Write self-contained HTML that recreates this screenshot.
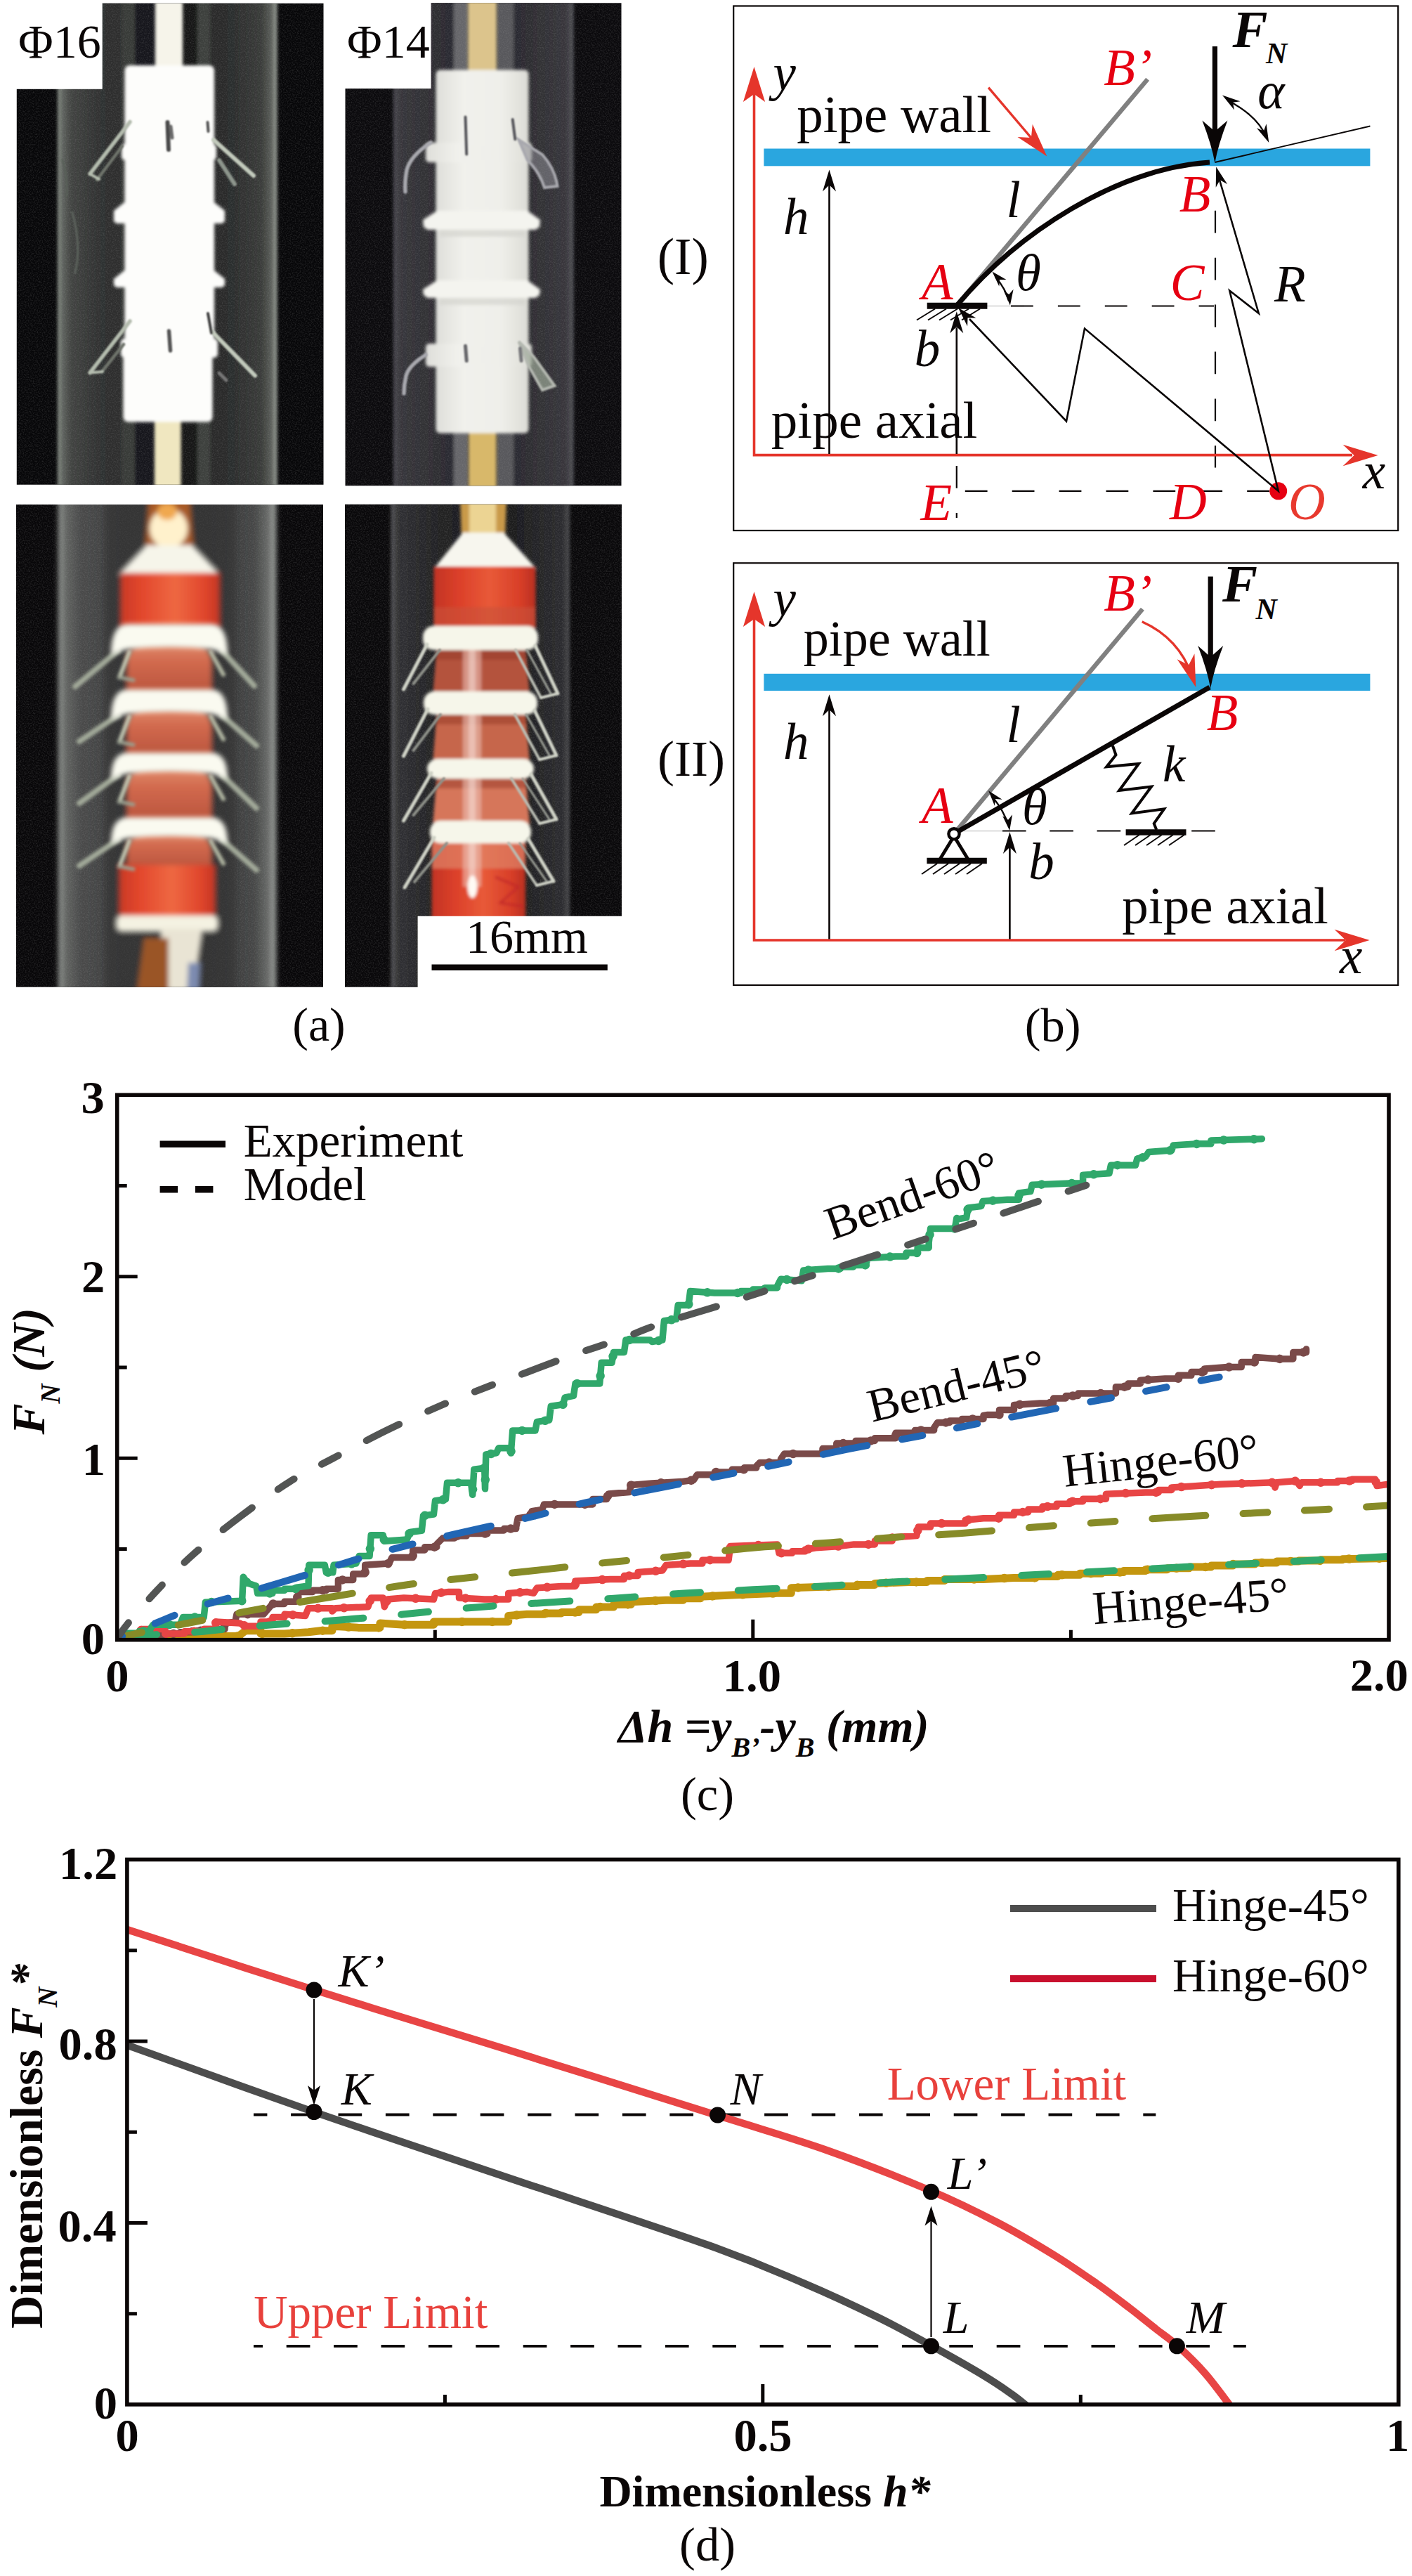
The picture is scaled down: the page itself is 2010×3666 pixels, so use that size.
<!DOCTYPE html>
<html><head><meta charset="utf-8"><title>Figure</title>
<style>html,body{margin:0;padding:0;background:#fff}svg{display:block}</style>
</head><body>
<svg width="2010" height="3666" viewBox="0 0 2010 3666">
<rect width="2010" height="3666" fill="#fff"/>
<g id="panela">
<defs>
<filter id="noise" x="0" y="0" width="100%" height="100%"><feTurbulence type="fractalNoise" baseFrequency="0.55" numOctaves="2" seed="7"/><feColorMatrix type="matrix" values="0 0 0 0 0.42  0 0 0 0 0.42  0 0 0 0 0.42  1.6 0 0 0 -0.66"/></filter>
<linearGradient id="body2" x1="0" x2="1" y1="0" y2="0"><stop offset="0" stop-color="#dededa"/><stop offset="0.3" stop-color="#f1f1ec"/><stop offset="0.7" stop-color="#efefea"/><stop offset="1" stop-color="#dcdcd6"/></linearGradient>
<filter id="blur1" x="-5%" y="-5%" width="110%" height="110%"><feGaussianBlur stdDeviation="1.2"/></filter>
<filter id="blur2" x="-5%" y="-5%" width="110%" height="110%"><feGaussianBlur stdDeviation="2.2"/></filter>
<filter id="blur3" x="-5%" y="-5%" width="110%" height="110%"><feGaussianBlur stdDeviation="3.5"/></filter>
<linearGradient id="tube1" x1="0" x2="1" y1="0" y2="0">
<stop offset="0" stop-color="#8f958d"/><stop offset="0.02" stop-color="#626661"/><stop offset="0.06" stop-color="#424442"/><stop offset="0.2" stop-color="#2f3030"/>
<stop offset="0.5" stop-color="#262727"/><stop offset="0.8" stop-color="#2c2d2d"/><stop offset="0.93" stop-color="#3a3c3a"/><stop offset="0.975" stop-color="#5c605b"/><stop offset="1" stop-color="#a2a8a0"/>
</linearGradient>
<linearGradient id="tube2" x1="0" x2="1" y1="0" y2="0">
<stop offset="0" stop-color="#4a4a50"/><stop offset="0.04" stop-color="#37363b"/><stop offset="0.3" stop-color="#2c2b30"/>
<stop offset="0.7" stop-color="#2c2b30"/><stop offset="0.96" stop-color="#38373c"/><stop offset="1" stop-color="#55555b"/>
</linearGradient>
<linearGradient id="tube3" x1="0" x2="1" y1="0" y2="0">
<stop offset="0" stop-color="#a0a5a0"/><stop offset="0.03" stop-color="#646664"/><stop offset="0.1" stop-color="#4a4b4b"/><stop offset="0.3" stop-color="#3c3c3d"/>
<stop offset="0.7" stop-color="#3a3a3b"/><stop offset="0.9" stop-color="#454646"/><stop offset="0.97" stop-color="#6c6e6c"/><stop offset="1" stop-color="#b0b5b0"/>
</linearGradient>
<linearGradient id="red3" x1="0" x2="1" y1="0" y2="0">
<stop offset="0" stop-color="#c93a26"/><stop offset="0.2" stop-color="#e2462c"/><stop offset="0.55" stop-color="#ee6842"/><stop offset="0.85" stop-color="#e0462c"/><stop offset="1" stop-color="#c43624"/>
</linearGradient>
<linearGradient id="dome3" x1="0" x2="0" y1="0" y2="1">
<stop offset="0" stop-color="#e08a6c"/><stop offset="0.35" stop-color="#d26a4e"/><stop offset="1" stop-color="#b9533c"/>
</linearGradient>
<linearGradient id="red4" x1="0" x2="1" y1="0" y2="0">
<stop offset="0" stop-color="#c23424"/><stop offset="0.25" stop-color="#dc402a"/><stop offset="0.55" stop-color="#e85a38"/><stop offset="0.85" stop-color="#d83e28"/><stop offset="1" stop-color="#b83022"/>
</linearGradient>
<linearGradient id="dome4" x1="0" x2="0" y1="0" y2="1">
<stop offset="0" stop-color="#9c3a28"/><stop offset="0.4" stop-color="#b85038"/><stop offset="1" stop-color="#b04c36"/>
</linearGradient>
<linearGradient id="tube4" x1="0" x2="1" y1="0" y2="0">
<stop offset="0" stop-color="#56565a"/><stop offset="0.04" stop-color="#303033"/><stop offset="0.3" stop-color="#202022"/>
<stop offset="0.7" stop-color="#1d1d1f"/><stop offset="0.96" stop-color="#2c2c2f"/><stop offset="1" stop-color="#4c4c50"/>
</linearGradient>
</defs>
<clipPath id="cp1"><rect x="23.8" y="4.7" width="436.7" height="685.1"/></clipPath>
<g clip-path="url(#cp1)">
<rect x="18.8" y="-0.3" width="446.7" height="695.1" fill="#070709" />
<g filter="url(#blur2)">
<rect x="82.0" y="-10.0" width="312.5" height="710.0" fill="url(#tube1)" />
<rect x="192.0" y="-10.0" width="29.0" height="710.0" fill="#19191c" />
<rect x="257.0" y="-10.0" width="24.0" height="710.0" fill="#161816" />
<rect x="173.0" y="-10.0" width="19.0" height="710.0" fill="#383a38" />
<rect x="281.0" y="-10.0" width="18.0" height="710.0" fill="#3e403e" />
</g>
<rect x="23.8" y="4.7" width="436.7" height="685.1" filter="url(#noise)" opacity="0.26"/>
<g filter="url(#blur2)">
<rect x="221.0" y="-10.0" width="39.0" height="110.0" fill="#f6f4ea" />
<rect x="220.0" y="590.0" width="37.5" height="110.0" fill="#f0e7c0" />
<rect x="177.5" y="93.0" width="127.5" height="416.0" fill="#fdfdfb" rx="7"/>
<rect x="175.5" y="500.0" width="127.0" height="100.5" fill="#fdfdfb" rx="7"/>
<rect x="173.0" y="205.0" width="135.0" height="23.0" fill="#fdfdfb" rx="5"/>
<polygon points="177.0,288.0 305.0,288.0 320.0,300.0 320.0,315.0 316.0,318.0 166.0,318.0 162.0,315.0 162.0,300.0" fill="#fdfdfb" />
<polygon points="177.0,385.0 305.0,385.0 320.0,397.0 320.0,406.0 316.0,409.0 166.0,409.0 162.0,406.0 162.0,397.0" fill="#fdfdfb" />
<rect x="172.0" y="482.0" width="138.0" height="27.0" fill="#fdfdfb" rx="5"/>
</g>
<g filter="url(#blur1)">
<line x1="185.0" y1="173.5" x2="128.0" y2="247.5" stroke="#b4bcae" stroke-width="5.5" stroke-linecap="round" />
<line x1="174.0" y1="208.0" x2="138.0" y2="256.0" stroke="#6f756c" stroke-width="4.5" stroke-linecap="round" />
<line x1="128.0" y1="247.5" x2="141.0" y2="255.0" stroke="#b4bcae" stroke-width="4.0" stroke-linecap="round" />
<line x1="304.0" y1="199.0" x2="361.0" y2="250.0" stroke="#c2cabc" stroke-width="6.0" stroke-linecap="round" />
<line x1="312.0" y1="228.0" x2="334.0" y2="262.0" stroke="#8d958c" stroke-width="6.0" stroke-linecap="round" />
<line x1="185.0" y1="457.0" x2="128.0" y2="530.5" stroke="#b4bcae" stroke-width="5.5" stroke-linecap="round" />
<line x1="176.0" y1="490.0" x2="145.0" y2="529.0" stroke="#6f756c" stroke-width="4.5" stroke-linecap="round" />
<line x1="128.0" y1="530.5" x2="146.0" y2="529.0" stroke="#b4bcae" stroke-width="4.0" stroke-linecap="round" />
<line x1="301.0" y1="471.0" x2="363.0" y2="534.5" stroke="#c2cabc" stroke-width="6.0" stroke-linecap="round" />
<line x1="296.0" y1="446.0" x2="301.0" y2="474.0" stroke="#3c3c3c" stroke-width="4.0" stroke-linecap="round" />
<line x1="312.0" y1="531.0" x2="322.0" y2="541.0" stroke="#777" stroke-width="5.0" stroke-linecap="round" />
<line x1="238.5" y1="174.0" x2="240.0" y2="213.0" stroke="#4a4a4a" stroke-width="6.0" stroke-linecap="round" />
<line x1="243.0" y1="180.0" x2="245.0" y2="196.0" stroke="#6a6a6a" stroke-width="5.0" stroke-linecap="round" />
<line x1="295.5" y1="174.0" x2="296.5" y2="187.0" stroke="#555" stroke-width="4.0" stroke-linecap="round" />
<line x1="240.5" y1="471.0" x2="242.5" y2="499.0" stroke="#555" stroke-width="5.5" stroke-linecap="round" />
<path d="M102.7 301.0 Q116.9 354.1 106.2 389.5" stroke="#5b625c" stroke-width="3" fill="none"/>
<path d="M88.5 226.6 Q97.4 255.0 94.9 279.7" stroke="#596059" stroke-width="2.5" fill="none"/>
</g>
</g>
<rect x="22.8" y="3.7" width="122.9" height="123.1" fill="#fff" />
<clipPath id="cp2"><rect x="491.5" y="4.3" width="393.0" height="686.9"/></clipPath>
<g clip-path="url(#cp2)">
<rect x="486.5" y="-0.7" width="403.0" height="696.9" fill="#0b0a0d" />
<g filter="url(#blur2)">
<rect x="560.0" y="-10.0" width="256.5" height="710.0" fill="url(#tube2)" />
<rect x="646.0" y="-10.0" width="20.0" height="710.0" fill="#66666a" />
<rect x="707.0" y="-10.0" width="24.0" height="710.0" fill="#58585c" />
</g>
<rect x="491.5" y="4.3" width="393.0" height="686.9" filter="url(#noise)" opacity="0.26"/>
<g filter="url(#blur2)">
<rect x="666.0" y="-10.0" width="41.0" height="120.0" fill="#dcc48c" />
<rect x="667.0" y="605.0" width="39.6" height="95.0" fill="#d8b86a" />
<rect x="620.5" y="99.5" width="132.0" height="517.0" fill="url(#body2)" rx="6"/>
<rect x="606.0" y="203.0" width="151.0" height="28.0" fill="url(#body2)" rx="5"/>
<polygon points="622.0,300.0 751.0,300.0 769.0,313.0 768.0,323.0 762.0,327.0 609.0,327.0 603.0,323.0 602.0,313.0" fill="#f4f4ef" />
<rect x="626.0" y="327.0" width="122.0" height="10.0" fill="#d4d4ce" opacity="0.7"/>
<polygon points="622.0,399.0 751.0,399.0 769.0,412.0 768.0,420.0 762.0,424.0 609.0,424.0 603.0,420.0 602.0,412.0" fill="#f4f4ef" />
<rect x="626.0" y="424.0" width="122.0" height="10.0" fill="#d4d4ce" opacity="0.7"/>
<rect x="606.0" y="489.0" width="151.0" height="33.0" fill="url(#body2)" rx="5"/>
</g>
<g filter="url(#blur1)" fill="none" stroke-linecap="round">
<path d="M613 203 Q584 222 579 242 Q576 258 577 273" stroke="#a8a8ae" stroke-width="5.5"/>
<path d="M738.5 199 L772 220 Q790 240 793.5 265 L775 267 Q768 245 751 228 Z" fill="#8a8a92" fill-opacity="0.55" stroke="#a8a8ae" stroke-width="4"/>
<path d="M606 505 Q582 520 578 535 Q575 548 575 560" stroke="#a8a8ae" stroke-width="5.5"/>
<path d="M738.5 486 L760 508 L789.5 549 L772 555 L752 520 Z" fill="#9aa596" fill-opacity="0.7" stroke="#b4b8b0" stroke-width="4"/>
<line x1="662.5" y1="166.4" x2="664.2" y2="219.5" stroke="#55555a" stroke-width="4.0" stroke-linecap="round" />
<line x1="729.7" y1="170.0" x2="733.3" y2="198.3" stroke="#55555a" stroke-width="4.0" stroke-linecap="round" />
<line x1="662.5" y1="492.2" x2="664.2" y2="513.5" stroke="#66666a" stroke-width="5.0" stroke-linecap="round" />
<line x1="740.4" y1="495.8" x2="742.1" y2="513.5" stroke="#77777a" stroke-width="5.0" stroke-linecap="round" />
</g>
</g>
<rect x="490.5" y="3.3" width="123.1" height="122.7" fill="#fff" />
<clipPath id="cp3"><rect x="23.0" y="718.0" width="437.0" height="686.7"/></clipPath>
<g clip-path="url(#cp3)">
<rect x="18.0" y="713.0" width="447.0" height="696.7" fill="#080709" />
<g filter="url(#blur3)">
<rect x="83.0" y="700.0" width="310.0" height="720.0" fill="url(#tube3)" />
</g>
<rect x="23.0" y="718.0" width="437.0" height="686.7" filter="url(#noise)" opacity="0.26"/>
<g filter="url(#blur3)">
<rect x="150.0" y="700.0" width="185.0" height="720.0" fill="#2f2f31" opacity="0.55"/>
<polygon points="212.0,712.0 270.0,712.0 276.0,785.0 206.0,785.0" fill="#a85a26" />
<ellipse cx="240" cy="752" rx="27" ry="28" fill="#fff1cc"/>
<ellipse cx="238" cy="728" rx="14" ry="12" fill="#f0a850"/>
<polygon points="209.0,776.0 273.0,776.0 313.0,818.0 169.0,818.0" fill="#f6f5ea" />
<rect x="172.0" y="815.0" width="140.5" height="77.0" fill="url(#red3)" />
<path d="M181.0 987.0 L181.0 941.0 Q184.0 916.0 211.0 916.0 L271.0 916.0 Q298.0 916.0 301.0 941.0 L301.0 987.0 Z" fill="url(#dome3)"/>
<path d="M181.0 1077.0 L181.0 1033.0 Q184.0 1008.0 211.0 1008.0 L271.0 1008.0 Q298.0 1008.0 301.0 1033.0 L301.0 1077.0 Z" fill="url(#dome3)"/>
<path d="M181.0 1169.0 L181.0 1118.0 Q184.0 1093.0 211.0 1093.0 L271.0 1093.0 Q298.0 1093.0 301.0 1118.0 L301.0 1169.0 Z" fill="url(#dome3)"/>
<path d="M181.0 1236.0 L181.0 1210.0 Q184.0 1185.0 211.0 1185.0 L271.0 1185.0 Q298.0 1185.0 301.0 1210.0 L301.0 1236.0 Z" fill="url(#dome3)"/>
<rect x="170.0" y="1231.0" width="136.0" height="76.0" fill="url(#red3)" />
<rect x="166.0" y="1303.0" width="144.0" height="22.0" fill="#f4f2e2" rx="7"/>
<polygon points="228.0,1322.0 288.0,1322.0 275.0,1410.0 240.0,1410.0" fill="#e9e4d4" />
<polygon points="205.0,1335.0 240.0,1335.0 240.0,1410.0 195.0,1410.0" fill="#9a5526" />
<polygon points="268.0,1370.0 285.0,1370.0 283.0,1410.0 266.0,1410.0" fill="#7d8bb0" />
</g>
<g filter="url(#blur2)">
<line x1="168.0" y1="926.0" x2="107.0" y2="977.0" stroke="#a3aa9a" stroke-width="8.0" stroke-linecap="round" />
<line x1="316.0" y1="926.0" x2="362.0" y2="976.0" stroke="#a3aa9a" stroke-width="8.0" stroke-linecap="round" />
<line x1="184.0" y1="928.0" x2="170.0" y2="964.0" stroke="#c4c9b4" stroke-width="6.0" stroke-linecap="round" />
<line x1="300.0" y1="928.0" x2="318.0" y2="960.0" stroke="#b4b9a4" stroke-width="6.0" stroke-linecap="round" />
<line x1="170.0" y1="964.0" x2="190.0" y2="968.0" stroke="#9aa090" stroke-width="5.0" stroke-linecap="round" />
<line x1="168.0" y1="1018.0" x2="113.0" y2="1055.0" stroke="#a3aa9a" stroke-width="8.0" stroke-linecap="round" />
<line x1="316.0" y1="1018.0" x2="365.0" y2="1061.0" stroke="#a3aa9a" stroke-width="8.0" stroke-linecap="round" />
<line x1="184.0" y1="1020.0" x2="170.0" y2="1056.0" stroke="#c4c9b4" stroke-width="6.0" stroke-linecap="round" />
<line x1="300.0" y1="1020.0" x2="318.0" y2="1052.0" stroke="#b4b9a4" stroke-width="6.0" stroke-linecap="round" />
<line x1="170.0" y1="1056.0" x2="190.0" y2="1060.0" stroke="#9aa090" stroke-width="5.0" stroke-linecap="round" />
<line x1="168.0" y1="1103.0" x2="113.0" y2="1143.0" stroke="#a3aa9a" stroke-width="8.0" stroke-linecap="round" />
<line x1="316.0" y1="1103.0" x2="365.0" y2="1150.0" stroke="#a3aa9a" stroke-width="8.0" stroke-linecap="round" />
<line x1="184.0" y1="1105.0" x2="170.0" y2="1141.0" stroke="#c4c9b4" stroke-width="6.0" stroke-linecap="round" />
<line x1="300.0" y1="1105.0" x2="318.0" y2="1137.0" stroke="#b4b9a4" stroke-width="6.0" stroke-linecap="round" />
<line x1="170.0" y1="1141.0" x2="190.0" y2="1145.0" stroke="#9aa090" stroke-width="5.0" stroke-linecap="round" />
<line x1="168.0" y1="1195.0" x2="113.0" y2="1232.0" stroke="#a3aa9a" stroke-width="8.0" stroke-linecap="round" />
<line x1="316.0" y1="1195.0" x2="365.0" y2="1238.0" stroke="#a3aa9a" stroke-width="8.0" stroke-linecap="round" />
<line x1="184.0" y1="1197.0" x2="170.0" y2="1233.0" stroke="#c4c9b4" stroke-width="6.0" stroke-linecap="round" />
<line x1="300.0" y1="1197.0" x2="318.0" y2="1229.0" stroke="#b4b9a4" stroke-width="6.0" stroke-linecap="round" />
<line x1="170.0" y1="1233.0" x2="190.0" y2="1237.0" stroke="#9aa090" stroke-width="5.0" stroke-linecap="round" />
</g>
<g filter="url(#blur3)">
<path d="M158.0 932.0 Q158.0 888.0 182.0 888.0 L300.0 888.0 Q324.0 888.0 324.0 932.0 L302.0 924.0 Q241.0 918.0 180.0 924.0 Z" fill="#fafaf0"/>
<path d="M158.0 1024.0 Q158.0 981.0 182.0 981.0 L300.0 981.0 Q324.0 981.0 324.0 1024.0 L302.0 1016.0 Q241.0 1010.0 180.0 1016.0 Z" fill="#fafaf0"/>
<path d="M158.0 1109.0 Q158.0 1071.0 182.0 1071.0 L300.0 1071.0 Q324.0 1071.0 324.0 1109.0 L302.0 1101.0 Q241.0 1095.0 180.0 1101.0 Z" fill="#fafaf0"/>
<path d="M158.0 1201.0 Q158.0 1163.0 182.0 1163.0 L300.0 1163.0 Q324.0 1163.0 324.0 1201.0 L302.0 1193.0 Q241.0 1187.0 180.0 1193.0 Z" fill="#fafaf0"/>
</g>
</g>
<clipPath id="cp4"><rect x="491.0" y="717.7" width="394.0" height="687.0"/></clipPath>
<g clip-path="url(#cp4)">
<rect x="486.0" y="712.7" width="404.0" height="697.0" fill="#09080a" />
<g filter="url(#blur2)">
<rect x="556.5" y="700.0" width="254.5" height="720.0" fill="url(#tube4)" />
</g>
<rect x="491.0" y="717.7" width="394.0" height="687.0" filter="url(#noise)" opacity="0.26"/>
<g filter="url(#blur2)">
<polygon points="655.0,710.0 721.0,710.0 719.0,766.0 657.0,766.0" fill="#c99a4a" />
<polygon points="668.0,710.0 706.0,710.0 706.0,762.0 668.0,762.0" fill="#ecd493" />
<polygon points="659.0,758.0 717.0,758.0 764.0,810.0 617.0,810.0" fill="#f7f6ee" />
<rect x="617.5" y="806.0" width="145.0" height="89.0" fill="url(#red4)" />
<rect x="617.5" y="864.0" width="145.0" height="31.0" fill="#c9523a" opacity="0.6"/>
<polygon points="622.0,919.0 748.0,919.0 754.0,990.0 616.0,990.0" fill="#b4523c" />
<polygon points="622.0,919.0 748.0,919.0 750.0,939.0 620.0,939.0" fill="#8e3424" opacity="0.45"/>
<polygon points="622.0,1011.0 748.0,1011.0 754.0,1086.0 616.0,1086.0" fill="#c6664c" />
<polygon points="622.0,1011.0 748.0,1011.0 750.0,1031.0 620.0,1031.0" fill="#8e3424" opacity="0.45"/>
<polygon points="622.0,1102.0 748.0,1102.0 754.0,1174.0 616.0,1174.0" fill="#d6765a" />
<polygon points="622.0,1102.0 748.0,1102.0 750.0,1122.0 620.0,1122.0" fill="#8e3424" opacity="0.45"/>
<rect x="614.7" y="1195.0" width="133.3" height="125.0" fill="url(#red4)" />
<rect x="614.7" y="1195.0" width="133.3" height="41.0" fill="#e08468" opacity="0.7"/>
<rect x="659.0" y="921.0" width="26.0" height="341.0" fill="#ecc0b4" opacity="0.6"/>
<rect x="667.0" y="925.0" width="10.0" height="337.0" fill="#f6ddd6" opacity="0.55"/>
<ellipse cx="672.5" cy="1262" rx="7" ry="16" fill="#fffaf4"/>
<path d="M705 1248 L738 1262 L712 1285 L745 1290" stroke="#c2282a" stroke-width="3" fill="none"/>
<rect x="602.0" y="891.0" width="164.0" height="34.0" fill="#f6f6ea" rx="15"/>
<rect x="603.0" y="984.0" width="162.0" height="33.0" fill="#f6f6ea" rx="15"/>
<rect x="608.0" y="1080.0" width="152.0" height="28.0" fill="#f6f6ea" rx="15"/>
<rect x="612.0" y="1168.0" width="144.0" height="32.0" fill="#f6f6ea" rx="15"/>
</g>
<g filter="url(#blur1)">
<line x1="608.0" y1="917.0" x2="574.5" y2="981.0" stroke="#cfd2c6" stroke-width="5.0" stroke-linecap="round" />
<line x1="626.0" y1="925.0" x2="588.5" y2="973.0" stroke="#8f928a" stroke-width="4.0" stroke-linecap="round" />
<line x1="762.0" y1="919.0" x2="794.0" y2="987.0" stroke="#cfd2c6" stroke-width="5.0" stroke-linecap="round" />
<line x1="734.0" y1="925.0" x2="770.0" y2="993.0" stroke="#b9bcb2" stroke-width="4.0" stroke-linecap="round" />
<line x1="794.0" y1="987.0" x2="770.0" y2="993.0" stroke="#cfd2c6" stroke-width="4.0" stroke-linecap="round" />
<line x1="750.0" y1="925.0" x2="784.0" y2="987.0" stroke="#9a9d94" stroke-width="3.0" stroke-linecap="round" />
<line x1="609.0" y1="1009.0" x2="574.5" y2="1076.0" stroke="#cfd2c6" stroke-width="5.0" stroke-linecap="round" />
<line x1="627.0" y1="1017.0" x2="588.5" y2="1068.0" stroke="#8f928a" stroke-width="4.0" stroke-linecap="round" />
<line x1="761.0" y1="1011.0" x2="792.0" y2="1075.0" stroke="#cfd2c6" stroke-width="5.0" stroke-linecap="round" />
<line x1="733.0" y1="1017.0" x2="768.0" y2="1081.0" stroke="#b9bcb2" stroke-width="4.0" stroke-linecap="round" />
<line x1="792.0" y1="1075.0" x2="768.0" y2="1081.0" stroke="#cfd2c6" stroke-width="4.0" stroke-linecap="round" />
<line x1="749.0" y1="1017.0" x2="782.0" y2="1075.0" stroke="#9a9d94" stroke-width="3.0" stroke-linecap="round" />
<line x1="614.0" y1="1100.0" x2="574.5" y2="1168.0" stroke="#cfd2c6" stroke-width="5.0" stroke-linecap="round" />
<line x1="632.0" y1="1108.0" x2="588.5" y2="1160.0" stroke="#8f928a" stroke-width="4.0" stroke-linecap="round" />
<line x1="756.0" y1="1102.0" x2="792.0" y2="1166.0" stroke="#cfd2c6" stroke-width="5.0" stroke-linecap="round" />
<line x1="728.0" y1="1108.0" x2="768.0" y2="1172.0" stroke="#b9bcb2" stroke-width="4.0" stroke-linecap="round" />
<line x1="792.0" y1="1166.0" x2="768.0" y2="1172.0" stroke="#cfd2c6" stroke-width="4.0" stroke-linecap="round" />
<line x1="744.0" y1="1108.0" x2="782.0" y2="1166.0" stroke="#9a9d94" stroke-width="3.0" stroke-linecap="round" />
<line x1="618.0" y1="1192.0" x2="576.0" y2="1263.0" stroke="#cfd2c6" stroke-width="5.0" stroke-linecap="round" />
<line x1="636.0" y1="1200.0" x2="590.0" y2="1255.0" stroke="#8f928a" stroke-width="4.0" stroke-linecap="round" />
<line x1="752.0" y1="1194.0" x2="788.0" y2="1254.0" stroke="#cfd2c6" stroke-width="5.0" stroke-linecap="round" />
<line x1="724.0" y1="1200.0" x2="764.0" y2="1260.0" stroke="#b9bcb2" stroke-width="4.0" stroke-linecap="round" />
<line x1="788.0" y1="1254.0" x2="764.0" y2="1260.0" stroke="#cfd2c6" stroke-width="4.0" stroke-linecap="round" />
<line x1="740.0" y1="1200.0" x2="778.0" y2="1254.0" stroke="#9a9d94" stroke-width="3.0" stroke-linecap="round" />
</g>
</g>
<rect x="594.6" y="1303.8" width="305.4" height="106.2" fill="#fff" />
<g font-family="'Liberation Serif', serif" font-size="68" fill="#0a0606">
<text x="26" y="81.8">Φ16</text>
<text x="494" y="81.8">Φ14</text>
<text x="750" y="1355.7" text-anchor="middle">16mm</text>
<text x="454" y="1480.6" text-anchor="middle">(a)</text>
</g>
<path d="M614.5 1376.8 H864.8" stroke="#0a0606" stroke-width="8.5"/>
</g>
<g id="panelb">
<rect x="1044.2" y="8.5" width="946" height="746.5" fill="none" stroke="#0a0606" stroke-width="2.2"/>
<rect x="1087.4" y="211.5" width="863" height="24.8" fill="#2aa6df"/>
<path d="M1405 435.5 H1458" stroke="#ddd" stroke-width="2"/>
<path d="M1439 435.5 H1728 M1730 299.8 V665.5 M1807 698.8 H1361.8 M1361.8 663 V737" stroke="#0a0606" stroke-width="2.2" stroke-dasharray="31.8 35.1" fill="none"/>
<path d="M1073.5 130 V647.6 H1925" stroke="#e5352b" stroke-width="3.6" fill="none"/>
<path d="M1073.5 95.0 L1089.1 145.0 L1073.5 134.0 L1057.9 145.0 Z" fill="#e5352b"/>
<path d="M1961.6 648.0 L1911.6 663.3 L1927.6 648.0 L1911.6 632.7 Z" fill="#e5352b"/>
<path d="M1407.1 124.6 L1478 208" stroke="#e5352b" stroke-width="3.4"/>
<path d="M1490.3 222.4 L1448.5 195.0 L1467.9 196.1 L1469.8 176.8 Z" fill="#e5352b"/>
<path d="M1180.5 646 V262 M1361.8 646 V466" stroke="#0a0606" stroke-width="2.6" fill="none"/>
<path d="M1180.5 241.5 L1190.0 272.5 L1180.5 263.2 L1171.0 272.5 Z" fill="#0a0606"/>
<path d="M1361.8 443.2 L1371.3 474.2 L1361.8 464.9 L1352.3 474.2 Z" fill="#0a0606"/>
<circle cx="1819.7" cy="698.8" r="12.5" fill="#e60012"/>
<path d="M1736 256 L1791.8 446 L1750.3 413.5 L1819.7 698.8 L1544 467.6 L1518 599.5 L1380 454" stroke="#0a0606" stroke-width="2.6" fill="none" stroke-linejoin="miter"/>
<path d="M1731.2 237.5 L1747.1 262.1 L1736.6 256.3 L1730.7 266.8 Z" fill="#0a0606"/>
<path d="M1364.0 438.0 L1389.4 452.5 L1377.5 452.2 L1377.1 464.2 Z" fill="#0a0606"/>
<path d="M1729.4 231 L1950.4 179.5" stroke="#0a0606" stroke-width="1.8"/>
<path d="M1361.8 435 L1633.6 112.7" stroke="#808080" stroke-width="6.4"/>
<path d="M1361.8 435 C1450 330 1590 240 1722 231" stroke="#0a0606" stroke-width="7.2" fill="none"/>
<path d="M1319.7 435.2 H1405.4" stroke="#0a0606" stroke-width="9"/>
<path d="M1331.0 439.5 l-26.0 16.0 M1347.0 439.5 l-26.0 16.0 M1363.0 439.5 l-26.0 16.0 M1379.0 439.5 l-26.0 16.0 M1395.0 439.5 l-26.0 16.0" stroke="#0a0606" stroke-width="2.0" fill="none"/>
<path d="M1729.4 66 V190" stroke="#0a0606" stroke-width="7.2"/>
<path d="M1729.4 232.0 Q1724.9 206.6 1711.4 171.6 L1729.4 187.0 L1747.4 171.6 Q1733.9 206.6 1729.4 232.0 Z" fill="#0a0606"/>
<path d="M1748 143 Q1790 165 1802 194" stroke="#0a0606" stroke-width="2.4" fill="none"/>
<path d="M1740.0 135.4 L1765.6 144.2 L1754.9 145.8 L1757.0 156.5 Z" fill="#0a0606"/>
<path d="M1806.3 203.0 L1788.9 182.3 L1798.9 186.4 L1802.6 176.2 Z" fill="#0a0606"/>
<path d="M1417 394 Q1432 412 1436 428" stroke="#0a0606" stroke-width="2.4" fill="none"/>
<path d="M1412.4 386.6 L1432.5 397.9 L1422.9 397.9 L1422.3 407.5 Z" fill="#0a0606"/>
<path d="M1437.9 434.4 L1428.6 413.3 L1436.3 419.1 L1442.6 411.8 Z" fill="#0a0606"/>
<g font-family="'Liberation Serif', serif" fill="#0a0606">
<text x="1134.2" y="187.7" font-size="75.0" >pipe wall</text>
<text x="1097.8" y="622.7" font-size="75.0" >pipe axial</text>
<text x="935.8" y="389.8" font-size="73.0" >(I)</text>
<text x="1100.4" y="127.5" font-size="73.0" font-style="italic" >y</text>
<text x="1115.0" y="332.9" font-size="73.0" font-style="italic" >h</text>
<text x="1432.5" y="308.8" font-size="73.0" font-style="italic" >l</text>
<text x="1301.7" y="521.0" font-size="73.0" font-style="italic" >b</text>
<text x="1446.1" y="413.0" font-size="73.0" font-style="italic" >θ</text>
<text x="1790.3" y="153.5" font-size="73.0" font-style="italic" >α</text>
<text x="1814.0" y="429.3" font-size="73.0" font-style="italic" >R</text>
<text x="1939.8" y="695.2" font-size="73.0" font-style="italic" >x</text>
<text x="1312.0" y="425.5" font-size="73.0" font-style="italic" fill="#e60012" >A</text>
<text x="1571.2" y="121.0" font-size="73.0" font-style="italic" fill="#e60012" >B’</text>
<text x="1678.8" y="300.5" font-size="73.0" font-style="italic" fill="#e60012" >B</text>
<text x="1665.8" y="426.8" font-size="73.0" font-style="italic" fill="#e60012" >C</text>
<text x="1665.0" y="738.5" font-size="73.0" font-style="italic" fill="#e60012" >D</text>
<text x="1310.5" y="739.6" font-size="73.0" font-style="italic" fill="#e60012" >E</text>
<text x="1834.0" y="739.3" font-size="73.0" font-style="italic" fill="#e8392e" >O</text>
<text x="1754.6" y="66.8" font-size="75.0" font-style="italic" font-weight="bold" >F</text>
<text x="1802.1" y="90.3" font-size="42.0" font-style="italic" font-weight="bold" >N</text>
</g>
<rect x="1044.2" y="801.3" width="946" height="600.7" fill="none" stroke="#0a0606" stroke-width="2.2"/>
<rect x="1087.4" y="958.8" width="863" height="24.2" fill="#2aa6df"/>
<path d="M1368 1182.5 H1427" stroke="#ddd" stroke-width="2"/>
<path d="M1427 1182.5 H1730" stroke="#0a0606" stroke-width="2.2" stroke-dasharray="33.6 33.7" fill="none"/>
<path d="M1073.5 880 V1338 H1915" stroke="#e5352b" stroke-width="3.6" fill="none"/>
<path d="M1073.5 842.0 L1089.1 892.0 L1073.5 881.0 L1057.9 892.0 Z" fill="#e5352b"/>
<path d="M1949.6 1338.0 L1899.6 1353.3 L1915.6 1338.0 L1899.6 1322.7 Z" fill="#e5352b"/>
<path d="M1180.5 1336.5 V1010 M1437.4 1336.5 V1205" stroke="#0a0606" stroke-width="2.6" fill="none"/>
<path d="M1180.5 988.2 L1190.0 1019.2 L1180.5 1009.9 L1171.0 1019.2 Z" fill="#0a0606"/>
<path d="M1437.4 1184.0 L1446.9 1215.0 L1437.4 1205.7 L1427.9 1215.0 Z" fill="#0a0606"/>
<path d="M1358 1186.5 L1626.4 866.7" stroke="#808080" stroke-width="6.4"/>
<path d="M1358 1186.5 L1722 978" stroke="#0a0606" stroke-width="7.2"/>
<path d="M1625.7 884.7 Q1678 908 1697 962" stroke="#e5352b" stroke-width="3.4" fill="none"/>
<path d="M1702.3 978.0 L1675.7 938.3 L1692.1 946.5 L1700.4 930.2 Z" fill="#e5352b"/>
<path d="M1723.2 820.5 V937" stroke="#0a0606" stroke-width="7.2"/>
<path d="M1723.2 979.5 Q1718.7 954.1 1705.2 919.0 L1723.2 935.0 L1741.2 919.0 Q1727.7 954.1 1723.2 979.5 Z" fill="#0a0606"/>
<path d="M1583.8 1061 L1588.5 1074.4 L1575.1 1091.3 L1621 1087 L1593.2 1125 L1639 1119.5 L1611.2 1157.4 L1657.1 1151.3 L1642.7 1171.9 L1646.3 1181" stroke="#0a0606" stroke-width="4" fill="none" stroke-linejoin="miter"/>
<path d="M1602.6 1184.5 H1688.5" stroke="#0a0606" stroke-width="8.5"/>
<path d="M1622.0 1188.0 l-22.0 15.0 M1638.0 1188.0 l-22.0 15.0 M1654.0 1188.0 l-22.0 15.0 M1670.0 1188.0 l-22.0 15.0 M1686.0 1188.0 l-22.0 15.0" stroke="#0a0606" stroke-width="2.0" fill="none"/>
<path d="M1358 1190 L1338.5 1222 M1358 1190 L1377.5 1222" stroke="#0a0606" stroke-width="4.8" fill="none"/>
<path d="M1319.4 1225 H1404.8" stroke="#0a0606" stroke-width="8.5"/>
<path d="M1334.0 1229.0 l-22.0 15.0 M1350.0 1229.0 l-22.0 15.0 M1366.0 1229.0 l-22.0 15.0 M1382.0 1229.0 l-22.0 15.0 M1398.0 1229.0 l-22.0 15.0" stroke="#0a0606" stroke-width="2.0" fill="none"/>
<circle cx="1358" cy="1186.8" r="7.6" fill="#fff" stroke="#0a0606" stroke-width="4.4"/>
<path d="M1412 1133 Q1430 1155 1436 1176" stroke="#0a0606" stroke-width="2.4" fill="none"/>
<path d="M1407.1 1125.3 L1426.6 1137.7 L1417.0 1137.1 L1415.9 1146.7 Z" fill="#0a0606"/>
<path d="M1437.2 1182.0 L1427.2 1161.2 L1435.1 1166.7 L1441.1 1159.2 Z" fill="#0a0606"/>
<g font-family="'Liberation Serif', serif" fill="#0a0606">
<text x="1143.8" y="932.5" font-size="72.0" >pipe wall</text>
<text x="1597.3" y="1313.5" font-size="75.0" >pipe axial</text>
<text x="936.0" y="1103.5" font-size="72.0" >(II)</text>
<text x="1458.7" y="1481.7" font-size="68.5" >(b)</text>
<text x="1100.4" y="875.6" font-size="73.0" font-style="italic" >y</text>
<text x="1115.0" y="1080.3" font-size="73.0" font-style="italic" >h</text>
<text x="1432.5" y="1055.5" font-size="73.0" font-style="italic" >l</text>
<text x="1464.2" y="1251.3" font-size="73.0" font-style="italic" >b</text>
<text x="1455.0" y="1173.0" font-size="73.0" font-style="italic" >θ</text>
<text x="1655.0" y="1111.6" font-size="73.0" font-style="italic" >k</text>
<text x="1907.0" y="1384.6" font-size="73.0" font-style="italic" >x</text>
<text x="1312.0" y="1171.3" font-size="73.0" font-style="italic" fill="#e60012" >A</text>
<text x="1571.2" y="868.5" font-size="73.0" font-style="italic" fill="#e60012" >B’</text>
<text x="1717.8" y="1039.3" font-size="73.0" font-style="italic" fill="#e60012" >B</text>
<text x="1740.0" y="855.8" font-size="75.0" font-style="italic" font-weight="bold" >F</text>
<text x="1787.5" y="881.0" font-size="42.0" font-style="italic" font-weight="bold" >N</text>
</g>
</g>
<g id="chartc">
<clipPath id="clipc"><rect x="166.7" y="1558.3" width="1810.3" height="775.4"/></clipPath>
<g clip-path="url(#clipc)" fill="none" stroke-linejoin="round" stroke-linecap="round">
<path d="M167.0 2331.3 L277.5 2330.0 L309.3 2330.0 L309.3 2328.5 L341.2 2328.5 L341.2 2327.1 L349.7 2320.7 L371.0 2320.7 L371.0 2324.9 L405.0 2324.9 L439.0 2322.8 L455.9 2320.7 L472.9 2320.7 L472.9 2314.3 L511.2 2316.4 L540.9 2316.4 L540.9 2310.1 L574.9 2312.2 L617.4 2312.2 L617.4 2307.9 L659.9 2307.9 L693.9 2307.9 L723.7 2307.9 L723.7 2299.4 L750.0 2297.3 L774.6 2297.3 L774.6 2295.9 L799.2 2295.9 L799.2 2294.5 L823.9 2294.5 L823.9 2290.8 L848.7 2290.8 L848.7 2287.1 L873.5 2287.1 L873.5 2283.4 L898.3 2283.4 L898.3 2279.7 L947.9 2277.2 L972.7 2277.2 L972.7 2274.7 L997.5 2274.7 L997.5 2272.2 L1047.0 2269.8 L1106.5 2267.3 L1126.3 2267.3 L1126.3 2259.8 L1195.8 2257.4 L1220.5 2257.4 L1220.5 2255.4 L1245.3 2255.4 L1245.3 2253.4 L1294.9 2251.4 L1319.7 2251.4 L1319.7 2249.4 L1344.5 2249.4 L1344.5 2247.5 L1400.0 2247.5 L1443.5 2245.4 L1474.6 2245.4 L1474.6 2243.4 L1505.8 2243.4 L1505.8 2241.3 L1537.0 2241.3 L1537.0 2239.3 L1568.1 2239.3 L1568.1 2237.5 L1599.3 2237.5 L1599.3 2235.6 L1630.5 2235.6 L1630.5 2233.7 L1661.6 2233.7 L1661.6 2231.8 L1692.8 2231.8 L1692.8 2230.0 L1723.9 2230.0 L1723.9 2228.1 L1755.1 2228.1 L1755.1 2226.1 L1786.3 2226.1 L1786.3 2224.1 L1817.4 2224.1 L1817.4 2222.0 L1848.6 2222.0 L1848.6 2220.9 L1879.7 2220.9 L1879.7 2219.8 L1910.9 2219.8 L1910.9 2218.8 L1976.3 2217.4" stroke="#c4960f" stroke-width="11.0"/>
<path d="M167.0 2331.3 L277.5 2330.0 L309.3 2330.0 L309.3 2328.5 L341.2 2328.5 L341.2 2327.1 L349.7 2320.7 L371.0 2320.7 L371.0 2324.9 L405.0 2324.9 L439.0 2322.8 L455.9 2320.7 L472.9 2320.7 L472.9 2314.3 L511.2 2316.4 L540.9 2316.4 L540.9 2310.1 L574.9 2312.2 L617.4 2312.2 L617.4 2307.9 L659.9 2307.9 L693.9 2307.9 L723.7 2307.9 L723.7 2299.4 L750.0 2297.3 L774.6 2297.3 L774.6 2295.9 L799.2 2295.9 L799.2 2294.5 L823.9 2294.5 L823.9 2290.8 L848.7 2290.8 L848.7 2287.1 L873.5 2287.1 L873.5 2283.4 L898.3 2283.4 L898.3 2279.7 L947.9 2277.2 L972.7 2277.2 L972.7 2274.7 L997.5 2274.7 L997.5 2272.2 L1047.0 2269.8 L1106.5 2267.3 L1126.3 2267.3 L1126.3 2259.8 L1195.8 2257.4 L1220.5 2257.4 L1220.5 2255.4 L1245.3 2255.4 L1245.3 2253.4 L1294.9 2251.4 L1319.7 2251.4 L1319.7 2249.4 L1344.5 2249.4 L1344.5 2247.5 L1400.0 2247.5 L1443.5 2245.4 L1474.6 2245.4 L1474.6 2243.4 L1505.8 2243.4 L1505.8 2241.3 L1537.0 2241.3 L1537.0 2239.3 L1568.1 2239.3 L1568.1 2237.5 L1599.3 2237.5 L1599.3 2235.6 L1630.5 2235.6 L1630.5 2233.7 L1661.6 2233.7 L1661.6 2231.8 L1692.8 2231.8 L1692.8 2230.0 L1723.9 2230.0 L1723.9 2228.1 L1755.1 2228.1 L1755.1 2226.1 L1786.3 2226.1 L1786.3 2224.1 L1817.4 2224.1 L1817.4 2222.0 L1848.6 2222.0 L1848.6 2220.9 L1879.7 2220.9 L1879.7 2219.8 L1910.9 2219.8 L1910.9 2218.8 L1976.3 2217.4" stroke="#c4960f" stroke-width="12.5" stroke-dasharray="0.1 43"/>
<path d="M167.0 2331.3 L189.3 2331.3 L189.3 2329.2 L211.6 2329.2 L211.6 2327.1 L233.9 2327.1 L233.9 2324.9 L256.2 2324.9 L256.2 2322.8 L273.2 2322.8 L273.2 2320.7 L290.2 2320.7 L290.2 2318.6 L320.0 2318.6 L320.0 2310.1 L334.8 2307.9 L337.0 2297.3 L375.2 2297.3 L388.0 2282.4 L405.0 2282.4 L405.0 2279.2 L422.0 2279.2 L422.0 2276.1 L426.2 2265.4 L445.3 2265.4 L445.3 2263.3 L464.4 2263.3 L464.4 2261.2 L481.4 2261.2 L481.4 2248.4 L502.7 2248.4 L502.7 2239.9 L519.7 2239.9 L519.7 2227.2 L553.7 2225.1 L557.9 2216.6 L587.7 2216.6 L587.7 2205.9 L604.7 2205.9 L604.7 2201.7 L621.7 2201.7 L621.7 2197.5 L630.2 2189.0 L647.2 2189.0 L647.2 2185.8 L664.2 2185.8 L664.2 2182.6 L693.9 2182.6 L693.9 2178.3 L700.0 2178.0 L717.4 2178.0 L717.4 2175.6 L734.7 2175.6 L734.7 2173.1 L737.2 2160.7 L754.5 2158.2 L757.0 2150.8 L771.9 2148.3 L774.4 2140.9 L811.5 2140.9 L843.8 2140.9 L843.8 2133.4 L863.6 2133.4 L866.1 2126.0 L895.8 2123.5 L898.3 2113.6 L928.0 2111.1 L970.2 2108.6 L987.5 2106.2 L992.5 2098.7 L1017.3 2098.7 L1017.3 2095.0 L1042.1 2095.0 L1042.1 2091.3 L1059.4 2091.3 L1059.4 2088.8 L1076.8 2088.8 L1076.8 2086.3 L1081.7 2081.4 L1111.5 2081.4 L1111.5 2076.4 L1116.4 2069.0 L1151.1 2069.0 L1171.0 2069.0 L1171.0 2061.5 L1190.8 2061.5 L1190.8 2054.1 L1218.1 2054.1 L1218.1 2050.4 L1245.3 2050.4 L1245.3 2046.7 L1275.1 2046.7 L1275.1 2039.2 L1302.3 2039.2 L1302.3 2035.5 L1329.6 2035.5 L1329.6 2031.8 L1334.6 2024.4 L1351.9 2024.4 L1351.9 2021.9 L1369.3 2021.9 L1369.3 2019.4 L1400.0 2019.4 L1400.0 2014.4 L1406.1 2013.4 L1422.5 2013.4 L1422.5 2006.4 L1443.5 2006.4 L1443.5 1999.4 L1480.9 1997.0 L1499.6 1997.0 L1499.6 1990.0 L1517.1 1990.0 L1517.1 1986.5 L1534.6 1986.5 L1534.6 1983.0 L1565.0 1983.0 L1588.4 1983.0 L1588.4 1973.7 L1605.9 1973.7 L1605.9 1969.0 L1623.4 1969.0 L1623.4 1964.3 L1658.5 1962.0 L1677.2 1962.0 L1677.2 1957.3 L1695.9 1957.3 L1695.9 1952.6 L1714.6 1952.6 L1714.6 1948.0 L1747.3 1945.6 L1767.2 1945.6 L1767.2 1938.6 L1787.0 1938.6 L1787.0 1931.6 L1822.1 1933.9 L1840.8 1933.9 L1840.8 1924.6 L1859.5 1924.6 L1859.5 1919.9" stroke="#7a4a49" stroke-width="9.5"/>
<path d="M167.0 2331.3 L189.3 2331.3 L189.3 2329.2 L211.6 2329.2 L211.6 2327.1 L233.9 2327.1 L233.9 2324.9 L256.2 2324.9 L256.2 2322.8 L273.2 2322.8 L273.2 2320.7 L290.2 2320.7 L290.2 2318.6 L320.0 2318.6 L320.0 2310.1 L334.8 2307.9 L337.0 2297.3 L375.2 2297.3 L388.0 2282.4 L405.0 2282.4 L405.0 2279.2 L422.0 2279.2 L422.0 2276.1 L426.2 2265.4 L445.3 2265.4 L445.3 2263.3 L464.4 2263.3 L464.4 2261.2 L481.4 2261.2 L481.4 2248.4 L502.7 2248.4 L502.7 2239.9 L519.7 2239.9 L519.7 2227.2 L553.7 2225.1 L557.9 2216.6 L587.7 2216.6 L587.7 2205.9 L604.7 2205.9 L604.7 2201.7 L621.7 2201.7 L621.7 2197.5 L630.2 2189.0 L647.2 2189.0 L647.2 2185.8 L664.2 2185.8 L664.2 2182.6 L693.9 2182.6 L693.9 2178.3 L700.0 2178.0 L717.4 2178.0 L717.4 2175.6 L734.7 2175.6 L734.7 2173.1 L737.2 2160.7 L754.5 2158.2 L757.0 2150.8 L771.9 2148.3 L774.4 2140.9 L811.5 2140.9 L843.8 2140.9 L843.8 2133.4 L863.6 2133.4 L866.1 2126.0 L895.8 2123.5 L898.3 2113.6 L928.0 2111.1 L970.2 2108.6 L987.5 2106.2 L992.5 2098.7 L1017.3 2098.7 L1017.3 2095.0 L1042.1 2095.0 L1042.1 2091.3 L1059.4 2091.3 L1059.4 2088.8 L1076.8 2088.8 L1076.8 2086.3 L1081.7 2081.4 L1111.5 2081.4 L1111.5 2076.4 L1116.4 2069.0 L1151.1 2069.0 L1171.0 2069.0 L1171.0 2061.5 L1190.8 2061.5 L1190.8 2054.1 L1218.1 2054.1 L1218.1 2050.4 L1245.3 2050.4 L1245.3 2046.7 L1275.1 2046.7 L1275.1 2039.2 L1302.3 2039.2 L1302.3 2035.5 L1329.6 2035.5 L1329.6 2031.8 L1334.6 2024.4 L1351.9 2024.4 L1351.9 2021.9 L1369.3 2021.9 L1369.3 2019.4 L1400.0 2019.4 L1400.0 2014.4 L1406.1 2013.4 L1422.5 2013.4 L1422.5 2006.4 L1443.5 2006.4 L1443.5 1999.4 L1480.9 1997.0 L1499.6 1997.0 L1499.6 1990.0 L1517.1 1990.0 L1517.1 1986.5 L1534.6 1986.5 L1534.6 1983.0 L1565.0 1983.0 L1588.4 1983.0 L1588.4 1973.7 L1605.9 1973.7 L1605.9 1969.0 L1623.4 1969.0 L1623.4 1964.3 L1658.5 1962.0 L1677.2 1962.0 L1677.2 1957.3 L1695.9 1957.3 L1695.9 1952.6 L1714.6 1952.6 L1714.6 1948.0 L1747.3 1945.6 L1767.2 1945.6 L1767.2 1938.6 L1787.0 1938.6 L1787.0 1931.6 L1822.1 1933.9 L1840.8 1933.9 L1840.8 1924.6 L1859.5 1924.6 L1859.5 1919.9" stroke="#7a4a49" stroke-width="12.5" stroke-dasharray="0.1 43"/>
<path d="M167.0 2329.2 L201.0 2329.2 L201.0 2318.6 L235.0 2318.6 L235.0 2324.9 L262.6 2324.9 L262.6 2321.7 L290.2 2321.7 L290.2 2318.6 L307.2 2318.6 L307.2 2307.9 L341.2 2310.1 L349.7 2314.3 L371.0 2314.3 L371.0 2307.9 L388.0 2307.9 L388.0 2301.6 L405.0 2301.6 L405.0 2297.3 L434.7 2299.4 L439.0 2288.8 L472.9 2288.8 L472.9 2293.1 L477.2 2288.8 L523.9 2286.7 L528.2 2273.9 L545.2 2273.9 L547.3 2286.7 L551.6 2276.1 L574.9 2273.9 L617.4 2276.1 L619.5 2267.6 L638.7 2265.4 L653.5 2265.4 L653.5 2273.9 L689.7 2276.1 L723.7 2276.1 L723.7 2267.6 L750.0 2265.4 L759.5 2267.3 L764.4 2259.8 L799.2 2257.4 L819.0 2257.4 L819.0 2249.9 L868.6 2247.5 L888.4 2247.5 L888.4 2242.5 L908.2 2242.5 L908.2 2237.5 L942.9 2235.1 L947.9 2227.6 L982.6 2225.1 L999.9 2225.1 L999.9 2220.2 L1037.1 2220.2 L1039.6 2200.4 L1106.5 2197.9 L1109.0 2210.3 L1127.6 2210.3 L1127.6 2207.8 L1146.2 2207.8 L1146.2 2205.3 L1161.0 2202.8 L1195.8 2200.4 L1215.6 2197.9 L1245.3 2197.9 L1245.3 2192.9 L1270.1 2192.9 L1270.1 2188.0 L1304.8 2185.5 L1307.3 2173.1 L1324.6 2173.1 L1324.6 2168.1 L1359.3 2168.1 L1374.2 2168.1 L1374.2 2163.2 L1400.0 2160.7 L1421.7 2160.7 L1421.7 2156.3 L1443.5 2156.3 L1443.5 2151.9 L1463.7 2151.9 L1463.7 2148.0 L1484.0 2148.0 L1484.0 2144.1 L1504.2 2144.1 L1504.2 2140.2 L1522.9 2140.2 L1522.9 2136.7 L1541.6 2136.7 L1541.6 2133.2 L1574.4 2133.2 L1574.4 2126.2 L1630.5 2123.9 L1649.2 2123.9 L1649.2 2120.4 L1667.8 2120.4 L1667.8 2116.9 L1705.2 2114.5 L1738.0 2112.2 L1812.7 2109.8 L1815.1 2116.9 L1817.4 2109.8 L1845.5 2107.5 L1850.1 2114.5 L1852.5 2109.8 L1882.9 2109.8 L1903.9 2109.8 L1903.9 2107.5 L1924.9 2107.5 L1924.9 2105.2 L1957.6 2105.2 L1960.0 2114.5 L1976.3 2112.2" stroke="#e84545" stroke-width="9.5"/>
<path d="M167.0 2329.2 L201.0 2329.2 L201.0 2318.6 L235.0 2318.6 L235.0 2324.9 L262.6 2324.9 L262.6 2321.7 L290.2 2321.7 L290.2 2318.6 L307.2 2318.6 L307.2 2307.9 L341.2 2310.1 L349.7 2314.3 L371.0 2314.3 L371.0 2307.9 L388.0 2307.9 L388.0 2301.6 L405.0 2301.6 L405.0 2297.3 L434.7 2299.4 L439.0 2288.8 L472.9 2288.8 L472.9 2293.1 L477.2 2288.8 L523.9 2286.7 L528.2 2273.9 L545.2 2273.9 L547.3 2286.7 L551.6 2276.1 L574.9 2273.9 L617.4 2276.1 L619.5 2267.6 L638.7 2265.4 L653.5 2265.4 L653.5 2273.9 L689.7 2276.1 L723.7 2276.1 L723.7 2267.6 L750.0 2265.4 L759.5 2267.3 L764.4 2259.8 L799.2 2257.4 L819.0 2257.4 L819.0 2249.9 L868.6 2247.5 L888.4 2247.5 L888.4 2242.5 L908.2 2242.5 L908.2 2237.5 L942.9 2235.1 L947.9 2227.6 L982.6 2225.1 L999.9 2225.1 L999.9 2220.2 L1037.1 2220.2 L1039.6 2200.4 L1106.5 2197.9 L1109.0 2210.3 L1127.6 2210.3 L1127.6 2207.8 L1146.2 2207.8 L1146.2 2205.3 L1161.0 2202.8 L1195.8 2200.4 L1215.6 2197.9 L1245.3 2197.9 L1245.3 2192.9 L1270.1 2192.9 L1270.1 2188.0 L1304.8 2185.5 L1307.3 2173.1 L1324.6 2173.1 L1324.6 2168.1 L1359.3 2168.1 L1374.2 2168.1 L1374.2 2163.2 L1400.0 2160.7 L1421.7 2160.7 L1421.7 2156.3 L1443.5 2156.3 L1443.5 2151.9 L1463.7 2151.9 L1463.7 2148.0 L1484.0 2148.0 L1484.0 2144.1 L1504.2 2144.1 L1504.2 2140.2 L1522.9 2140.2 L1522.9 2136.7 L1541.6 2136.7 L1541.6 2133.2 L1574.4 2133.2 L1574.4 2126.2 L1630.5 2123.9 L1649.2 2123.9 L1649.2 2120.4 L1667.8 2120.4 L1667.8 2116.9 L1705.2 2114.5 L1738.0 2112.2 L1812.7 2109.8 L1815.1 2116.9 L1817.4 2109.8 L1845.5 2107.5 L1850.1 2114.5 L1852.5 2109.8 L1882.9 2109.8 L1903.9 2109.8 L1903.9 2107.5 L1924.9 2107.5 L1924.9 2105.2 L1957.6 2105.2 L1960.0 2114.5 L1976.3 2112.2" stroke="#e84545" stroke-width="12.5" stroke-dasharray="0.1 43"/>
<path d="M167.0 2327.1 L182.6 2327.1 L182.6 2324.2 L198.2 2324.2 L198.2 2321.4 L213.7 2321.4 L213.7 2318.6 L218.0 2312.2 L256.2 2312.2 L260.5 2301.6 L290.2 2301.6 L292.4 2280.3 L344.6 2278.2 L346.3 2244.2 L351.8 2252.7 L364.6 2256.9 L366.7 2267.6 L388.0 2267.6 L388.0 2263.3 L405.0 2263.3 L405.0 2261.2 L422.0 2261.2 L422.0 2259.1 L439.0 2256.9 L439.8 2227.2 L462.3 2227.2 L464.4 2237.8 L473.8 2237.8 L475.1 2227.2 L506.9 2225.1 L511.2 2214.4 L526.1 2214.4 L528.2 2184.7 L545.2 2184.7 L547.3 2193.2 L579.2 2191.1 L583.4 2180.5 L600.4 2178.3 L602.5 2157.1 L617.4 2155.0 L619.5 2135.8 L634.4 2133.7 L636.5 2110.3 L670.5 2110.3 L672.7 2127.3 L674.8 2091.2 L689.7 2089.1 L690.5 2118.8 L691.8 2070.0 L706.7 2067.8 L709.9 2060.7 L727.3 2060.7 L727.3 2068.1 L729.7 2035.9 L762.0 2035.9 L764.4 2023.5 L781.8 2021.0 L784.3 2001.2 L801.6 1998.7 L804.1 1988.8 L816.5 1986.3 L819.0 1969.0 L853.7 1969.0 L856.2 1939.2 L871.0 1939.2 L873.5 1924.4 L888.4 1924.4 L890.9 1907.0 L925.6 1907.0 L928.0 1909.5 L942.9 1907.0 L945.4 1879.8 L962.7 1877.3 L965.2 1857.5 L980.1 1857.5 L982.6 1837.6 L1017.3 1840.1 L1037.1 1840.1 L1054.5 1840.1 L1054.5 1837.6 L1071.8 1837.6 L1071.8 1835.1 L1089.2 1835.1 L1089.2 1832.7 L1106.5 1832.7 L1106.5 1830.2 L1111.5 1820.3 L1141.2 1822.7 L1143.7 1807.9 L1178.4 1805.4 L1196.6 1805.4 L1196.6 1802.9 L1214.8 1802.9 L1214.8 1800.4 L1232.9 1800.4 L1232.9 1798.0 L1235.4 1790.5 L1275.1 1788.0 L1289.9 1788.0 L1289.9 1783.1 L1306.1 1783.1 L1306.1 1775.7 L1322.2 1775.7 L1322.2 1768.2 L1324.6 1748.4 L1359.3 1748.4 L1361.8 1733.5 L1361.7 1735.3 L1375.7 1732.9 L1378.0 1718.9 L1396.7 1716.6 L1399.1 1709.6 L1434.1 1707.2 L1450.5 1707.2 L1450.5 1697.9 L1466.9 1695.6 L1469.2 1686.2 L1522.9 1683.9 L1541.6 1683.9 L1541.6 1672.2 L1579.0 1669.8 L1581.4 1658.2 L1616.4 1658.2 L1618.8 1648.8 L1630.5 1646.5 L1635.1 1639.5 L1667.8 1637.1 L1670.2 1630.1 L1705.2 1627.8 L1723.9 1627.8 L1723.9 1623.1 L1796.4 1620.8" stroke="#30a86b" stroke-width="9.5"/>
<path d="M167.0 2327.1 L182.6 2327.1 L182.6 2324.2 L198.2 2324.2 L198.2 2321.4 L213.7 2321.4 L213.7 2318.6 L218.0 2312.2 L256.2 2312.2 L260.5 2301.6 L290.2 2301.6 L292.4 2280.3 L344.6 2278.2 L346.3 2244.2 L351.8 2252.7 L364.6 2256.9 L366.7 2267.6 L388.0 2267.6 L388.0 2263.3 L405.0 2263.3 L405.0 2261.2 L422.0 2261.2 L422.0 2259.1 L439.0 2256.9 L439.8 2227.2 L462.3 2227.2 L464.4 2237.8 L473.8 2237.8 L475.1 2227.2 L506.9 2225.1 L511.2 2214.4 L526.1 2214.4 L528.2 2184.7 L545.2 2184.7 L547.3 2193.2 L579.2 2191.1 L583.4 2180.5 L600.4 2178.3 L602.5 2157.1 L617.4 2155.0 L619.5 2135.8 L634.4 2133.7 L636.5 2110.3 L670.5 2110.3 L672.7 2127.3 L674.8 2091.2 L689.7 2089.1 L690.5 2118.8 L691.8 2070.0 L706.7 2067.8 L709.9 2060.7 L727.3 2060.7 L727.3 2068.1 L729.7 2035.9 L762.0 2035.9 L764.4 2023.5 L781.8 2021.0 L784.3 2001.2 L801.6 1998.7 L804.1 1988.8 L816.5 1986.3 L819.0 1969.0 L853.7 1969.0 L856.2 1939.2 L871.0 1939.2 L873.5 1924.4 L888.4 1924.4 L890.9 1907.0 L925.6 1907.0 L928.0 1909.5 L942.9 1907.0 L945.4 1879.8 L962.7 1877.3 L965.2 1857.5 L980.1 1857.5 L982.6 1837.6 L1017.3 1840.1 L1037.1 1840.1 L1054.5 1840.1 L1054.5 1837.6 L1071.8 1837.6 L1071.8 1835.1 L1089.2 1835.1 L1089.2 1832.7 L1106.5 1832.7 L1106.5 1830.2 L1111.5 1820.3 L1141.2 1822.7 L1143.7 1807.9 L1178.4 1805.4 L1196.6 1805.4 L1196.6 1802.9 L1214.8 1802.9 L1214.8 1800.4 L1232.9 1800.4 L1232.9 1798.0 L1235.4 1790.5 L1275.1 1788.0 L1289.9 1788.0 L1289.9 1783.1 L1306.1 1783.1 L1306.1 1775.7 L1322.2 1775.7 L1322.2 1768.2 L1324.6 1748.4 L1359.3 1748.4 L1361.8 1733.5 L1361.7 1735.3 L1375.7 1732.9 L1378.0 1718.9 L1396.7 1716.6 L1399.1 1709.6 L1434.1 1707.2 L1450.5 1707.2 L1450.5 1697.9 L1466.9 1695.6 L1469.2 1686.2 L1522.9 1683.9 L1541.6 1683.9 L1541.6 1672.2 L1579.0 1669.8 L1581.4 1658.2 L1616.4 1658.2 L1618.8 1648.8 L1630.5 1646.5 L1635.1 1639.5 L1667.8 1637.1 L1670.2 1630.1 L1705.2 1627.8 L1723.9 1627.8 L1723.9 1623.1 L1796.4 1620.8" stroke="#30a86b" stroke-width="12.5" stroke-dasharray="0.1 43"/>
<path d="M167.0 2331.0 C174.8 2330.3 195.3 2328.4 213.7 2327.0 C232.1 2325.6 259.8 2324.2 277.5 2322.8 C295.2 2321.4 301.6 2320.4 320.0 2318.6 C338.4 2316.8 361.1 2314.3 388.0 2312.2 C414.9 2310.1 450.2 2308.3 481.4 2305.8 C512.6 2303.3 545.2 2300.1 575.0 2297.3 C604.8 2294.5 630.8 2291.3 660.0 2288.8 C689.2 2286.3 714.4 2284.8 750.0 2282.4 C785.6 2280.1 835.6 2277.2 873.5 2274.7 C911.4 2272.2 944.6 2269.4 977.6 2267.3 C1010.6 2265.2 1039.6 2264.0 1071.8 2262.3 C1104.0 2260.7 1138.0 2259.2 1171.0 2257.4 C1204.0 2255.6 1237.0 2253.2 1270.0 2251.4 C1303.0 2249.6 1251.5 2252.6 1369.3 2246.5 C1487.0 2240.4 1875.3 2220.2 1976.5 2215.0" stroke="#30a86b" stroke-width="10" stroke-dasharray="55 54 39 54 39 54" stroke-dashoffset="293.5"/>
<path d="M167.0 2331.0 C174.8 2329.3 195.3 2324.5 213.7 2320.7 C232.1 2316.9 250.6 2313.3 277.5 2308.0 C304.4 2302.7 341.8 2294.8 375.0 2288.8 C408.2 2282.8 442.3 2277.5 477.0 2271.8 C511.7 2266.1 550.1 2259.4 583.4 2254.8 C616.7 2250.2 645.2 2247.7 677.0 2244.2 C708.8 2240.7 741.6 2237.2 774.4 2233.6 C807.1 2230.0 842.9 2225.8 873.5 2222.7 C904.1 2219.6 924.8 2218.5 957.8 2215.2 C990.8 2211.9 1034.6 2206.1 1071.8 2202.8 C1109.0 2199.5 1148.0 2197.9 1181.0 2195.4 C1214.0 2192.9 1238.6 2190.2 1270.0 2188.0 C1301.4 2185.8 1332.6 2184.7 1369.3 2182.0 C1406.0 2179.3 1455.8 2174.7 1490.0 2172.0 C1524.2 2169.3 1543.2 2168.2 1574.4 2166.0 C1605.6 2163.8 1641.9 2161.1 1677.0 2159.0 C1712.1 2156.9 1752.0 2155.0 1784.8 2153.3 C1817.6 2151.6 1841.6 2150.5 1873.6 2148.7 C1905.5 2146.9 1959.3 2143.6 1976.5 2142.6" stroke="#878b28" stroke-width="10" stroke-dasharray="76 53 35 53 35 53" stroke-dashoffset="40.2"/>
<path d="M167.0 2331.0 C172.7 2328.9 184.0 2325.3 201.0 2318.6 C218.0 2311.9 245.7 2299.2 269.0 2291.0 C292.3 2282.8 311.2 2278.6 341.0 2269.7 C370.8 2260.8 417.0 2247.0 447.5 2237.8 C478.0 2228.6 499.2 2221.5 524.0 2214.4 C548.8 2207.3 567.0 2202.4 596.0 2195.3 C625.0 2188.2 670.8 2178.2 698.0 2172.0 C725.2 2165.8 736.8 2163.6 759.5 2158.0 C782.2 2152.4 805.1 2145.0 834.0 2138.4 C862.9 2131.8 901.7 2124.8 933.0 2118.6 C964.3 2112.4 993.1 2106.8 1022.0 2101.0 C1050.9 2095.2 1075.0 2090.6 1106.5 2084.0 C1138.0 2077.4 1175.2 2068.7 1210.7 2061.6 C1246.2 2054.5 1288.2 2047.9 1319.7 2041.7 C1351.2 2035.5 1330.7 2038.1 1400.0 2024.4 C1469.3 2010.7 1679.8 1970.5 1735.7 1959.7" stroke="#2166b4" stroke-width="10" stroke-dasharray="64 50 30 50 30 50" stroke-dashoffset="56.3"/>
<path d="M167.0 2331.0 C169.8 2327.2 174.8 2319.0 184.0 2308.0 C193.2 2297.0 207.2 2280.7 222.0 2265.0 C236.8 2249.3 253.2 2231.7 273.0 2214.0 C292.8 2196.3 317.6 2176.7 341.0 2159.0 C364.4 2141.3 391.5 2121.8 413.5 2108.0 C435.5 2094.2 450.4 2088.0 473.0 2076.0 C495.6 2064.0 523.6 2048.7 549.4 2036.0 C575.2 2023.3 603.2 2010.7 628.0 2000.0 C652.8 1989.3 677.7 1979.8 698.0 1972.0 C718.3 1964.2 730.7 1960.2 750.0 1953.0 C769.3 1945.8 791.3 1937.1 814.0 1929.0 C836.7 1920.9 865.3 1912.0 886.0 1904.6 C906.7 1897.2 912.0 1893.4 938.0 1884.7 C964.0 1876.0 1010.7 1862.5 1042.0 1852.5 C1073.3 1842.5 1097.9 1834.1 1126.0 1825.0 C1154.1 1815.9 1180.0 1807.9 1210.7 1798.0 C1241.4 1788.1 1278.5 1776.1 1310.0 1765.8 C1341.5 1755.5 1357.8 1750.1 1400.0 1736.0 C1442.2 1721.9 1535.8 1690.2 1563.0 1681.0" stroke="#535554" stroke-width="10" stroke-dasharray="52 45 27 45 27 45" stroke-dashoffset="25.0"/>
</g>
<rect x="166.7" y="1558.3" width="1810.3" height="775.4" fill="none" stroke="#0a0606" stroke-width="5.6"/>
<path d="M166.7 2075.2 h29 M166.7 1816.8 h29 M166.7 2204.5 h14 M166.7 1946.0 h14 M166.7 1687.5 h14 M1071.8 2333.7 v-29 M619.3 2333.7 v-14 M1524.4 2333.7 v-14" stroke="#0a0606" stroke-width="5" fill="none"/>
<g font-family="'Liberation Serif', serif" font-size="66" fill="#0a0606">
<text x="115.6" y="1583.7" font-size="66.5" font-weight="bold" >3</text>
<text x="116.1" y="1839.0" font-size="66.5" font-weight="bold" >2</text>
<text x="116.8" y="2099.0" font-size="66.5" font-weight="bold" >1</text>
<text x="115.8" y="2354.1" font-size="66.5" font-weight="bold" >0</text>
<text x="150.2" y="2406.6" font-size="66.5" font-weight="bold" >0</text>
<text x="1028.8" y="2406.6" font-size="66.5" font-weight="bold" >1.0</text>
<text x="1921.7" y="2406.3" font-size="66.5" font-weight="bold" >2.0</text>
<path d="M227.6 1628.2 H321" stroke="#0a0606" stroke-width="9.5"/>
<path d="M227.6 1692.8 h25.5 m24.8 0 h25.5" stroke="#0a0606" stroke-width="9.5"/>
<text x="346.7" y="1645.5" font-size="67.0" >Experiment</text>
<text x="346.7" y="1707.5" font-size="67.0" >Model</text>
<text transform="translate(1184.5 1765.0) rotate(-19.5)" font-size="67">Bend-60°</text>
<text transform="translate(1241.5 2024.0) rotate(-13.6)" font-size="67">Bend-45°</text>
<text transform="translate(1515.5 2116.0) rotate(-6.3)" font-size="67">Hinge-60°</text>
<text transform="translate(1557.0 2311.5) rotate(-4.4)" font-size="67">Hinge-45°</text>
<g font-weight="bold" font-style="italic">
<text x="880" y="2478.6">Δh =y<tspan font-size="40" dy="21">B’</tspan><tspan dy="-21">-y</tspan><tspan font-size="40" dy="21">B</tspan><tspan dy="-21"> (mm)</tspan></text>
<text transform="translate(63 2041.5) rotate(-90)">F<tspan font-size="39" dy="22">N</tspan><tspan dy="-22"> (N)</tspan></text>
</g>
<text x="969.0" y="2576.4" font-size="68.5" >(c)</text>
</g>
</g>
<g id="chartd">
<clipPath id="clipd"><rect x="180.9" y="2646.4" width="1809.9" height="775.5"/></clipPath>
<path d="M361 3009.5 H1645.3" stroke="#0a0606" stroke-width="3.8" stroke-dasharray="33.7 33.7" stroke-dashoffset="14.3" fill="none"/>
<path d="M361 3338.8 H1773.8" stroke="#0a0606" stroke-width="3.8" stroke-dasharray="33.7 33.7" stroke-dashoffset="20.7" fill="none"/>
<g clip-path="url(#clipd)" fill="none">
<path d="M180.9 2910.5 C225.2 2926.3 357.9 2974.6 447.0 3005.6 C536.1 3036.6 622.3 3065.0 715.3 3096.4 C808.3 3127.8 933.7 3168.6 1005.0 3194.0 C1076.3 3219.4 1102.2 3231.5 1143.0 3248.8 C1183.8 3266.1 1219.6 3283.1 1250.0 3298.0 C1280.4 3312.9 1300.4 3324.4 1325.5 3338.2 C1350.6 3352.0 1381.5 3369.5 1400.6 3381.0 C1419.7 3392.5 1429.8 3399.8 1440.0 3407.0 C1450.2 3414.2 1458.3 3421.2 1462.0 3424.0" stroke="#4d4d4d" stroke-width="10.5"/>
<path d="M180.9 2746.0 C225.2 2760.3 357.9 2803.7 447.0 2831.8 C536.1 2859.9 619.5 2885.0 715.3 2914.8 C811.0 2944.6 944.2 2986.3 1021.5 3010.6 C1098.8 3034.9 1128.1 3042.8 1178.8 3060.7 C1229.5 3078.6 1285.3 3100.9 1325.5 3118.0 C1365.7 3135.1 1390.8 3147.8 1420.0 3163.0 C1449.2 3178.2 1477.4 3195.2 1500.7 3209.5 C1524.0 3223.8 1542.1 3236.5 1560.0 3249.0 C1577.9 3261.5 1593.8 3273.8 1608.0 3284.6 C1622.2 3295.4 1633.7 3305.1 1645.0 3314.0 C1656.3 3322.9 1664.3 3327.6 1676.0 3338.2 C1687.7 3348.8 1703.0 3363.5 1715.3 3377.5 C1727.6 3391.5 1744.2 3414.6 1750.0 3422.0" stroke="#e84545" stroke-width="10.5"/>
</g>
<rect x="180.9" y="2646.4" width="1809.9" height="775.5" fill="none" stroke="#0a0606" stroke-width="5.6"/>
<path d="M180.9 3163.4 h29 M180.9 2904.9 h29 M180.9 3292.7 h14 M180.9 3034.2 h14 M180.9 2775.7 h14 M1085.8 3421.9 v-29 M633.4 3421.9 v-14 M1538.3 3421.9 v-14" stroke="#0a0606" stroke-width="5" fill="none"/>
<path d="M447 2845 V2980" stroke="#0a0606" stroke-width="2.2"/>
<path d="M447 2996 l-9 -28 l9 7 l9 -7 z" fill="#0a0606"/>
<path d="M1325.5 3326 V3155" stroke="#0a0606" stroke-width="2.2"/>
<path d="M1325.5 3139.4 l-9 28 l9 -7 l9 7 z" fill="#0a0606"/>
<circle cx="447.0" cy="2832.0" r="11.5" fill="#0a0606"/>
<circle cx="447.0" cy="3005.5" r="11.5" fill="#0a0606"/>
<circle cx="1021.5" cy="3010.0" r="11.5" fill="#0a0606"/>
<circle cx="1325.5" cy="3119.3" r="11.5" fill="#0a0606"/>
<circle cx="1325.5" cy="3338.8" r="11.5" fill="#0a0606"/>
<circle cx="1675.4" cy="3338.8" r="11.5" fill="#0a0606"/>
<path d="M1438 2716 H1646" stroke="#4d4d4d" stroke-width="10"/>
<path d="M1438 2816 H1646" stroke="#c8102e" stroke-width="10"/>
<g font-family="'Liberation Serif', serif" font-size="66" fill="#0a0606">
<text x="1669.0" y="2733.8" font-size="67.0" >Hinge-45°</text>
<text x="1669.0" y="2834.0" font-size="67.0" >Hinge-60°</text>
<text x="1262.7" y="2987.7" font-size="67.0" fill="#e8413c" >Lower Limit</text>
<text x="361.2" y="3313.0" font-size="67.0" fill="#e8413c" >Upper Limit</text>
<text x="481.4" y="2826.8" font-size="66.0" font-style="italic" >K’</text>
<text x="485.8" y="2995.0" font-size="66.0" font-style="italic" >K</text>
<text x="1039.5" y="2995.0" font-size="66.0" font-style="italic" >N</text>
<text x="1348.8" y="3115.0" font-size="66.0" font-style="italic" >L’</text>
<text x="1342.8" y="3320.0" font-size="66.0" font-style="italic" >L</text>
<text x="1688.8" y="3320.0" font-size="66.0" font-style="italic" >M</text>
<text x="84.1" y="2674.4" font-size="66.5" font-weight="bold" >1.2</text>
<text x="83.6" y="2931.0" font-size="66.5" font-weight="bold" >0.8</text>
<text x="82.6" y="3190.0" font-size="66.5" font-weight="bold" >0.4</text>
<text x="133.8" y="3442.0" font-size="66.5" font-weight="bold" >0</text>
<text x="164.4" y="3487.7" font-size="66.5" font-weight="bold" >0</text>
<text x="1044.4" y="3487.7" font-size="66.5" font-weight="bold" >0.5</text>
<text x="1972.9" y="3487.7" font-size="66.5" font-weight="bold" >1</text>
<g font-weight="bold">
<text x="853.4" y="3567.1" font-size="64">Dimensionless <tspan font-style="italic">h*</tspan></text>
<text transform="translate(59.7 3314) rotate(-90)" font-size="65.6">Dimensionless <tspan font-style="italic">F</tspan><tspan font-style="italic" font-size="40" dy="21">N</tspan><tspan font-style="italic" dy="-21">*</tspan></text>
</g>
<text x="967.1" y="3643.6" font-size="68.5" >(d)</text>
</g>
</g>
</svg>
</body></html>
